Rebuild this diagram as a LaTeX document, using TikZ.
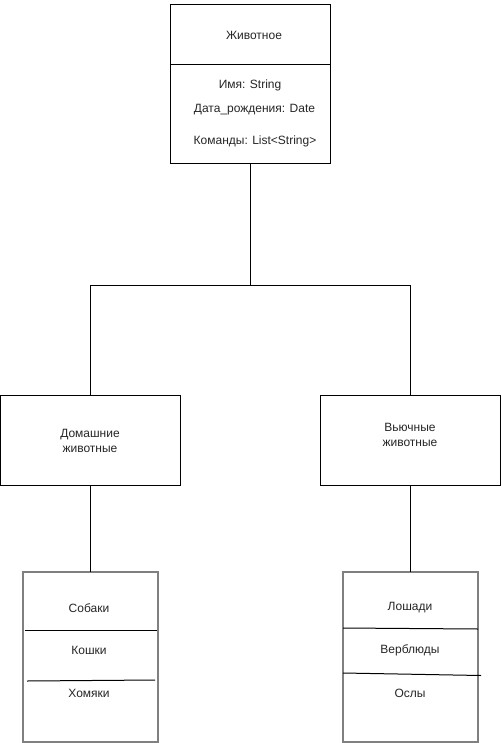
\documentclass[tikz,border=0pt]{standalone}
\usepackage{fontspec}
\setmainfont{Liberation Sans}
\begin{document}
\begin{tikzpicture}[x=1pt,y=-1pt,
  every node/.style={font=\fontsize{12}{15}\selectfont, text=black!85},
  box/.style={draw=black, line width=1pt, fill=white, inner sep=0pt, outer sep=0pt},
  listbox/.style={draw=black!50, line width=2pt, fill=white, inner sep=0pt, outer sep=0pt, minimum width=135pt, minimum height=170pt},
  catbox/.style={box, minimum width=180pt, minimum height=90pt},
  txt/.style={inner sep=0pt, align=center},
  conn/.style={draw=black, line width=1pt},
  divider/.style={draw=black, line width=1pt}
]
\useasboundingbox (0,0) rectangle (501,743);
% top class box
\node[box, minimum width=160pt, minimum height=159pt] (animal) at (250,84.5) {};
\coordinate (divL) at (170,65);
\coordinate (divR) at (330,65);
\draw[divider] (divL) -- (divR);
\node[txt] (tname) at (254,35) {Животное};
\node[txt] (a1) at (250,85) {Имя: String};
\node[txt] (a2) at (254.5,110) {Дата\_рождения: Date};
\node[txt] (a3) at (255,141) {Команды: List<String>};
% categories
\node[catbox] (home) at (90.5,440) {};
\node[txt] (homet) at (90,440.5) {Домашние\\животные};
\node[catbox] (pack) at (410,440) {};
\node[txt] (packt) at (410,435) {Вьючные\\животные};
% connectors
\coordinate (split) at (250,285);
\draw[conn] (animal.south) -- (split);
\draw[conn] (split) -| (home.north);
\draw[conn] (split) -| (pack.north);
% lists
\node[listbox] (homelist) at (90.5,657) {};
\node[listbox] (packlist) at (410.5,657) {};
\draw[conn] (home.south) -- (home.south |- homelist.north);
\draw[conn] (pack.south) -- (pack.south |- packlist.north);
\coordinate (h1l) at (25,630); \coordinate (h1r) at (157,630);
\coordinate (h2l) at (27,681); \coordinate (h2r) at (155,680);
\draw[divider] (h1l) -- (h1r);
\draw[divider] (h2l) -- (h2r);
\coordinate (p1l) at (343,628); \coordinate (p1r) at (478,629);
\coordinate (p2l) at (343,673); \coordinate (p2r) at (481,675.5);
\draw[divider] (p1l) -- (p1r);
\draw[divider] (p2l) -- (p2r);
\node[txt] (dogs) at (89,608) {Собаки};
\node[txt] (cats) at (89,650) {Кошки};
\node[txt] (ham) at (89,693) {Хомяки};
\node[txt] (horses) at (410,608) {Лошади};
\node[txt] (camels) at (410,650) {Верблюды};
\node[txt] (donkeys) at (410,693) {Ослы};
\end{tikzpicture}
\end{document}
